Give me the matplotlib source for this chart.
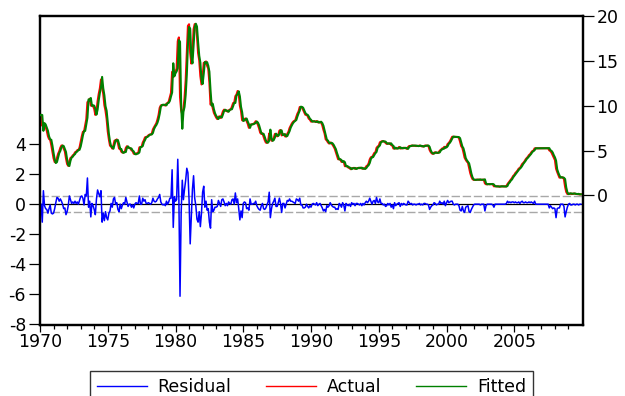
import numpy as np
import matplotlib
matplotlib.use("Agg")
import matplotlib.pyplot as plt
from matplotlib.ticker import FixedLocator
from matplotlib.lines import Line2D

# ---------------- data (monthly, 1970M01 - 2009M12) ----------------
start_year = 1970

actual_1970s = [
    8.98, 8.98, 7.76, 8.10, 7.95, 7.61, 7.21, 6.61, 6.29, 6.20, 5.60, 4.90,
    4.14, 3.72, 3.71, 4.16, 4.63, 4.91, 5.31, 5.56, 5.55, 5.20, 4.91, 4.14,
    3.50, 3.29, 3.83, 4.17, 4.27, 4.46, 4.55, 4.80, 4.87, 5.04, 5.06, 5.33,
    5.94, 6.58, 7.09, 7.12, 7.84, 8.49, 10.40, 10.50, 10.78, 10.01, 10.03, 9.95,
    9.65, 8.97, 9.35, 10.51, 11.31, 11.93, 12.92, 12.01, 11.34, 10.06, 9.45, 8.53,
    7.13, 6.24, 5.54, 5.49, 5.22, 5.55, 6.10, 6.14, 6.24, 5.82, 5.22, 5.20,
    4.87, 4.77, 4.84, 4.82, 5.29, 5.48, 5.31, 5.29, 5.25, 5.03, 4.95, 4.65,
    4.61, 4.68, 4.69, 4.73, 5.35, 5.39, 5.42, 5.90, 6.14, 6.47, 6.51, 6.56,
    6.70, 6.78, 6.79, 6.89, 7.36, 7.60, 7.81, 8.04, 8.45, 8.96, 9.76, 10.03,
    10.07, 10.06, 10.09, 10.01, 10.24, 10.29, 10.47, 10.94, 11.43, 13.77, 13.18, 13.78,
]
actual_1980s = [
    13.82, 14.13, 17.19, 17.61, 10.98, 9.47, 9.03, 9.61, 10.87, 12.81, 15.85, 18.90,
    19.08, 15.93, 14.70, 15.72, 18.52, 19.10, 19.04, 17.82, 15.87, 15.08, 13.31, 12.37,
    13.22, 14.78, 14.68, 14.94, 14.45, 14.15, 12.59, 10.12, 10.31, 9.71, 9.20, 8.95,
    8.68, 8.51, 8.77, 8.80, 8.63, 8.98, 9.37, 9.56, 9.45, 9.48, 9.34, 9.47,
    9.56, 9.59, 9.91, 10.29, 10.32, 11.06, 11.23, 11.64, 11.30, 9.99, 9.43, 8.38,
    8.35, 8.50, 8.58, 8.27, 7.97, 7.53, 7.88, 7.90, 7.92, 7.99, 8.05, 8.27,
    8.14, 7.86, 7.48, 6.99, 6.85, 6.92, 6.56, 6.17, 5.89, 5.85, 6.04, 6.91,
    6.43, 6.10, 6.13, 6.37, 6.85, 6.73, 6.58, 6.73, 7.22, 7.29, 6.69, 6.77,
    6.83, 6.58, 6.58, 6.87, 7.09, 7.51, 7.75, 8.01, 8.19, 8.30, 8.35, 8.76,
    9.12, 9.36, 9.85, 9.84, 9.81, 9.53, 9.24, 8.99, 9.02, 8.84, 8.55, 8.45,
]
actual_1990s = [
    8.23, 8.24, 8.28, 8.26, 8.18, 8.29, 8.15, 8.13, 8.20, 8.11, 7.81, 7.31,
    6.91, 6.25, 6.12, 5.91, 5.78, 5.90, 5.82, 5.66, 5.45, 5.21, 4.81, 4.43,
    4.03, 4.06, 3.98, 3.73, 3.82, 3.76, 3.25, 3.30, 3.22, 3.10, 3.09, 2.92,
    3.02, 3.03, 3.07, 2.96, 3.00, 3.04, 3.06, 3.03, 3.09, 2.99, 3.02, 2.96,
    3.05, 3.25, 3.34, 3.56, 4.01, 4.25, 4.26, 4.47, 4.73, 4.76, 5.29, 5.45,
    5.53, 5.92, 5.98, 6.05, 6.01, 6.00, 5.85, 5.74, 5.80, 5.76, 5.80, 5.60,
    5.56, 5.22, 5.31, 5.22, 5.24, 5.27, 5.40, 5.22, 5.30, 5.24, 5.31, 5.29,
    5.25, 5.19, 5.39, 5.51, 5.50, 5.56, 5.52, 5.54, 5.54, 5.50, 5.52, 5.50,
    5.56, 5.51, 5.49, 5.45, 5.49, 5.56, 5.54, 5.55, 5.51, 5.07, 4.83, 4.68,
    4.63, 4.76, 4.81, 4.74, 4.74, 4.76, 4.99, 5.07, 5.22, 5.20, 5.42, 5.30,
]
actual_2000s = [
    5.45, 5.73, 5.85, 6.02, 6.27, 6.53, 6.54, 6.50, 6.52, 6.51, 6.51, 6.40,
    5.98, 5.49, 5.31, 4.80, 4.21, 3.97, 3.77, 3.65, 3.07, 2.49, 2.09, 1.82,
    1.73, 1.74, 1.73, 1.75, 1.75, 1.75, 1.73, 1.74, 1.75, 1.75, 1.34, 1.24,
    1.24, 1.26, 1.25, 1.26, 1.26, 1.22, 1.01, 1.03, 1.01, 1.01, 1.00, 0.98,
    1.00, 1.01, 1.00, 1.00, 1.00, 1.03, 1.26, 1.43, 1.61, 1.76, 1.93, 2.16,
    2.28, 2.50, 2.63, 2.79, 3.00, 3.04, 3.26, 3.50, 3.62, 3.78, 4.00, 4.16,
    4.29, 4.49, 4.59, 4.79, 4.94, 4.99, 5.24, 5.25, 5.25, 5.25, 5.25, 5.24,
    5.25, 5.26, 5.26, 5.25, 5.25, 5.25, 5.26, 5.02, 4.94, 4.76, 4.49, 4.24,
    3.94, 2.98, 2.61, 2.28, 1.98, 2.00, 2.01, 2.00, 1.81, 0.97, 0.39, 0.16,
    0.15, 0.22, 0.18, 0.15, 0.18, 0.21, 0.16, 0.16, 0.15, 0.12, 0.12, 0.12,
]

resid_1970s = [
    0.05, 0.0, -1.2, 0.9, -0.1, -0.3, -0.35, -0.6, -0.3, -0.05, -0.6, -0.65,
    -0.6, -0.3, 0.1, 0.45, 0.4, 0.2, 0.35, 0.2, 0.0, -0.3, -0.25, -0.7,
    -0.5, -0.1, 0.55, 0.3, 0.05, 0.15, 0.05, 0.2, 0.05, 0.15, 0.0, 0.25,
    0.5, 0.55, 0.4, -0.05, 0.65, 0.55, 1.75, -0.2, 0.2, -0.85, 0.05, -0.1,
    -0.35, -0.7, 0.35, 0.95, 0.7, 0.5, 0.9, -1.2, -0.6, -1.1, -0.5, -0.9,
    -1.05, -0.6, -0.45, 0.05, -0.2, 0.35, 0.45, 0.0, 0.1, -0.35, -0.5, 0.0,
    -0.3, -0.05, 0.1, 0.0, 0.45, 0.15, -0.15, 0.0, 0.0, -0.2, -0.05, -0.25,
    0.0, 0.1, 0.05, 0.05, 0.55, 0.0, 0.0, 0.4, 0.2, 0.3, 0.05, 0.05,
    0.1, 0.05, 0.0, 0.1, 0.4, 0.2, 0.15, 0.2, 0.35, 0.45, 0.65, 0.15,
    0.0, -0.05, 0.0, -0.1, 0.2, 0.0, 0.15, 0.4, 0.4, 2.3, -1.55, 0.5,
]
resid_1980s = [
    0.2, 0.3, 3.0, 0.3, -6.15, -0.6, 1.6, 0.3, 1.0, 1.6, 2.4, 2.1,
    0.3, -2.65, -0.8, 1.0, 1.9, 0.4, -0.1, -1.0, -1.2, -0.5, -1.5, -0.6,
    0.8, 1.2, -0.2, 0.2, -0.4, -0.3, -1.2, -1.6, 0.3, -0.5, -0.4, -0.2,
    -0.2, -0.15, 0.25, 0.05, -0.15, 0.3, 0.35, 0.15, -0.1, 0.05, -0.1, 0.15,
    0.05, 0.0, 0.3, 0.35, 0.0, 0.75, 0.1, 0.35, -0.3, -1.05, -0.45, -0.9,
    0.05, 0.15, 0.1, -0.3, -0.25, -0.4, 0.35, 0.0, 0.0, 0.05, 0.05, 0.2,
    -0.1, -0.25, -0.35, -0.4, -0.1, 0.05, -0.3, -0.35, -0.25, -0.05, 0.15, 0.8,
    -0.9, -0.3, 0.05, 0.2, 0.4, -0.15, -0.15, 0.1, 0.4, 0.05, -0.55, 0.05,
    0.05, -0.25, 0.0, 0.25, 0.2, 0.35, 0.2, 0.2, 0.15, 0.1, 0.05, 0.35,
    0.3, 0.2, 0.4, -0.05, -0.05, -0.25, -0.25, -0.2, 0.0, -0.15, -0.25, -0.1,
]
resid_1990s = [
    -0.2, 0.0, 0.05, 0.0, -0.05, 0.1, -0.1, 0.0, 0.05, -0.1, -0.25, -0.45,
    -0.35, -0.5, -0.1, -0.2, -0.1, 0.1, -0.05, -0.15, -0.2, -0.2, -0.35, -0.3,
    -0.35, 0.05, -0.05, -0.2, 0.1, -0.05, -0.45, 0.05, -0.05, -0.1, 0.0, -0.15,
    0.1, 0.0, 0.05, -0.1, 0.05, 0.05, 0.0, -0.05, 0.05, -0.1, 0.05, -0.05,
    0.1, 0.2, 0.1, 0.2, 0.4, 0.2, 0.0, 0.2, 0.25, 0.05, 0.45, 0.15,
    0.1, 0.35, 0.05, 0.05, -0.05, 0.0, -0.15, -0.1, 0.05, -0.05, 0.05, -0.2,
    -0.05, -0.3, 0.1, -0.1, 0.0, 0.05, 0.1, -0.15, 0.05, -0.05, 0.05, 0.0,
    -0.05, -0.05, 0.2, 0.1, 0.0, 0.05, -0.05, 0.0, 0.0, -0.05, 0.0, 0.0,
    0.05, -0.05, 0.0, -0.05, 0.05, 0.05, 0.0, 0.0, -0.05, -0.35, -0.2, -0.1,
    -0.05, 0.1, 0.05, -0.05, 0.0, 0.0, 0.2, 0.05, 0.1, 0.0, 0.2, -0.1,
]
resid_2000s = [
    0.1, 0.25, 0.1, 0.15, 0.2, 0.2, 0.0, -0.05, 0.0, 0.0, 0.0, -0.1,
    -0.4, -0.45, -0.15, -0.45, -0.55, -0.2, -0.15, -0.1, -0.5, -0.55, -0.35, -0.2,
    -0.05, 0.0, 0.0, 0.0, 0.0, 0.0, -0.05, 0.0, 0.0, 0.0, -0.45, -0.1,
    0.0, 0.0, 0.0, 0.0, 0.0, -0.05, -0.2, 0.0, 0.0, 0.0, 0.0, 0.0,
    0.0, 0.0, 0.0, 0.0, 0.0, 0.05, 0.2, 0.1, 0.15, 0.1, 0.15, 0.15,
    0.1, 0.15, 0.1, 0.1, 0.15, 0.05, 0.15, 0.2, 0.1, 0.1, 0.15, 0.1,
    0.1, 0.15, 0.1, 0.15, 0.1, 0.05, 0.2, 0.0, 0.0, 0.0, 0.0, 0.0,
    0.0, 0.0, 0.0, 0.0, 0.0, 0.0, 0.0, -0.25, -0.1, -0.2, -0.3, -0.25,
    -0.3, -0.9, -0.3, -0.25, -0.25, 0.0, 0.0, 0.0, -0.15, -0.85, -0.5, -0.2,
    0.0, 0.05, -0.05, -0.05, 0.0, 0.0, -0.05, 0.0, 0.0, -0.05, 0.0, 0.0,
]

resid_se = 0.53  # standard error band shown as dashed lines

left_ticks = [-8, -6, -4, -2, 0, 2, 4]
right_ticks = [0, 5, 10, 15, 20]
year_labels = [1970, 1975, 1980, 1985, 1990, 1995, 2000, 2005]
legend_labels = ["Residual", "Actual", "Fitted"]

# ---------------- derived ----------------
actual = np.array(actual_1970s + actual_1980s + actual_1990s + actual_2000s)
resid = np.array(resid_1970s + resid_1980s + resid_1990s + resid_2000s)
fitted = actual - resid
t = start_year + np.arange(len(actual)) / 12.0

BLUE = "#0000ff"
RED = "#ff0000"
GREEN = "#008000"

plt.rcParams["font.family"] = ["DejaVu Sans"]
FS = 12.5

fig = plt.figure(figsize=(6.25, 3.96), dpi=100)
ax = fig.add_axes([40 / 625, 1 - 325 / 396, (582.7 - 40) / 625, (325 - 16) / 396])
ax2 = ax.twinx()

# reference lines for residual
ax.axhline(0, color="black", lw=0.9, zorder=1)
ax.axhline(resid_se, color="#a8a8a8", lw=1.0, dashes=(6, 2), zorder=1)
ax.axhline(-resid_se, color="#a8a8a8", lw=1.0, dashes=(6, 2), zorder=1)
ax.plot(t, resid, color=BLUE, lw=1.1, zorder=3)

ax2.plot(t, actual, color=RED, lw=1.5, zorder=2)
ax2.plot(t, fitted, color=GREEN, lw=1.5, zorder=3)

ax.set_xlim(1970, 2010.05)
ax.set_ylim(-8.07, 12.57)
ax2.set_ylim(-14.45, 20)

ax.xaxis.set_major_locator(FixedLocator(year_labels))
ax.xaxis.set_minor_locator(FixedLocator(list(range(1971, 2010))))
ax.set_xticklabels([str(y) for y in year_labels], fontsize=FS)
ax.yaxis.set_major_locator(FixedLocator(left_ticks))
ax.set_yticklabels([str(v) for v in left_ticks], fontsize=FS)
ax2.yaxis.set_major_locator(FixedLocator(right_ticks))
ax2.set_yticklabels([str(v) for v in right_ticks], fontsize=FS)

ax.tick_params(axis="x", which="major", direction="out", length=5, width=0.9, pad=1)
ax.tick_params(axis="x", which="minor", direction="out", length=3, width=0.9)
ax.tick_params(axis="y", direction="out", length=8, width=0.9, pad=2)
ax2.tick_params(axis="y", direction="out", length=8, width=0.9, pad=2)

for a in (ax, ax2):
    for s in a.spines.values():
        s.set_linewidth(1.6)
        s.set_color("black")

handles = [Line2D([], [], color=c, lw=1.0) for c in (BLUE, RED, GREEN)]
leg = fig.legend(handles, legend_labels, loc="upper center",
                 bbox_to_anchor=((40 + 582.7) / 2 / 625, 1 - 371 / 396),
                 ncol=3, fontsize=FS, frameon=True, fancybox=False,
                 edgecolor="black", handlelength=2.9, columnspacing=2.0,
                 handletextpad=0.6, borderpad=0.4, borderaxespad=0)
leg.get_frame().set_linewidth(1.0)

fig.savefig("out.png", dpi=100)
